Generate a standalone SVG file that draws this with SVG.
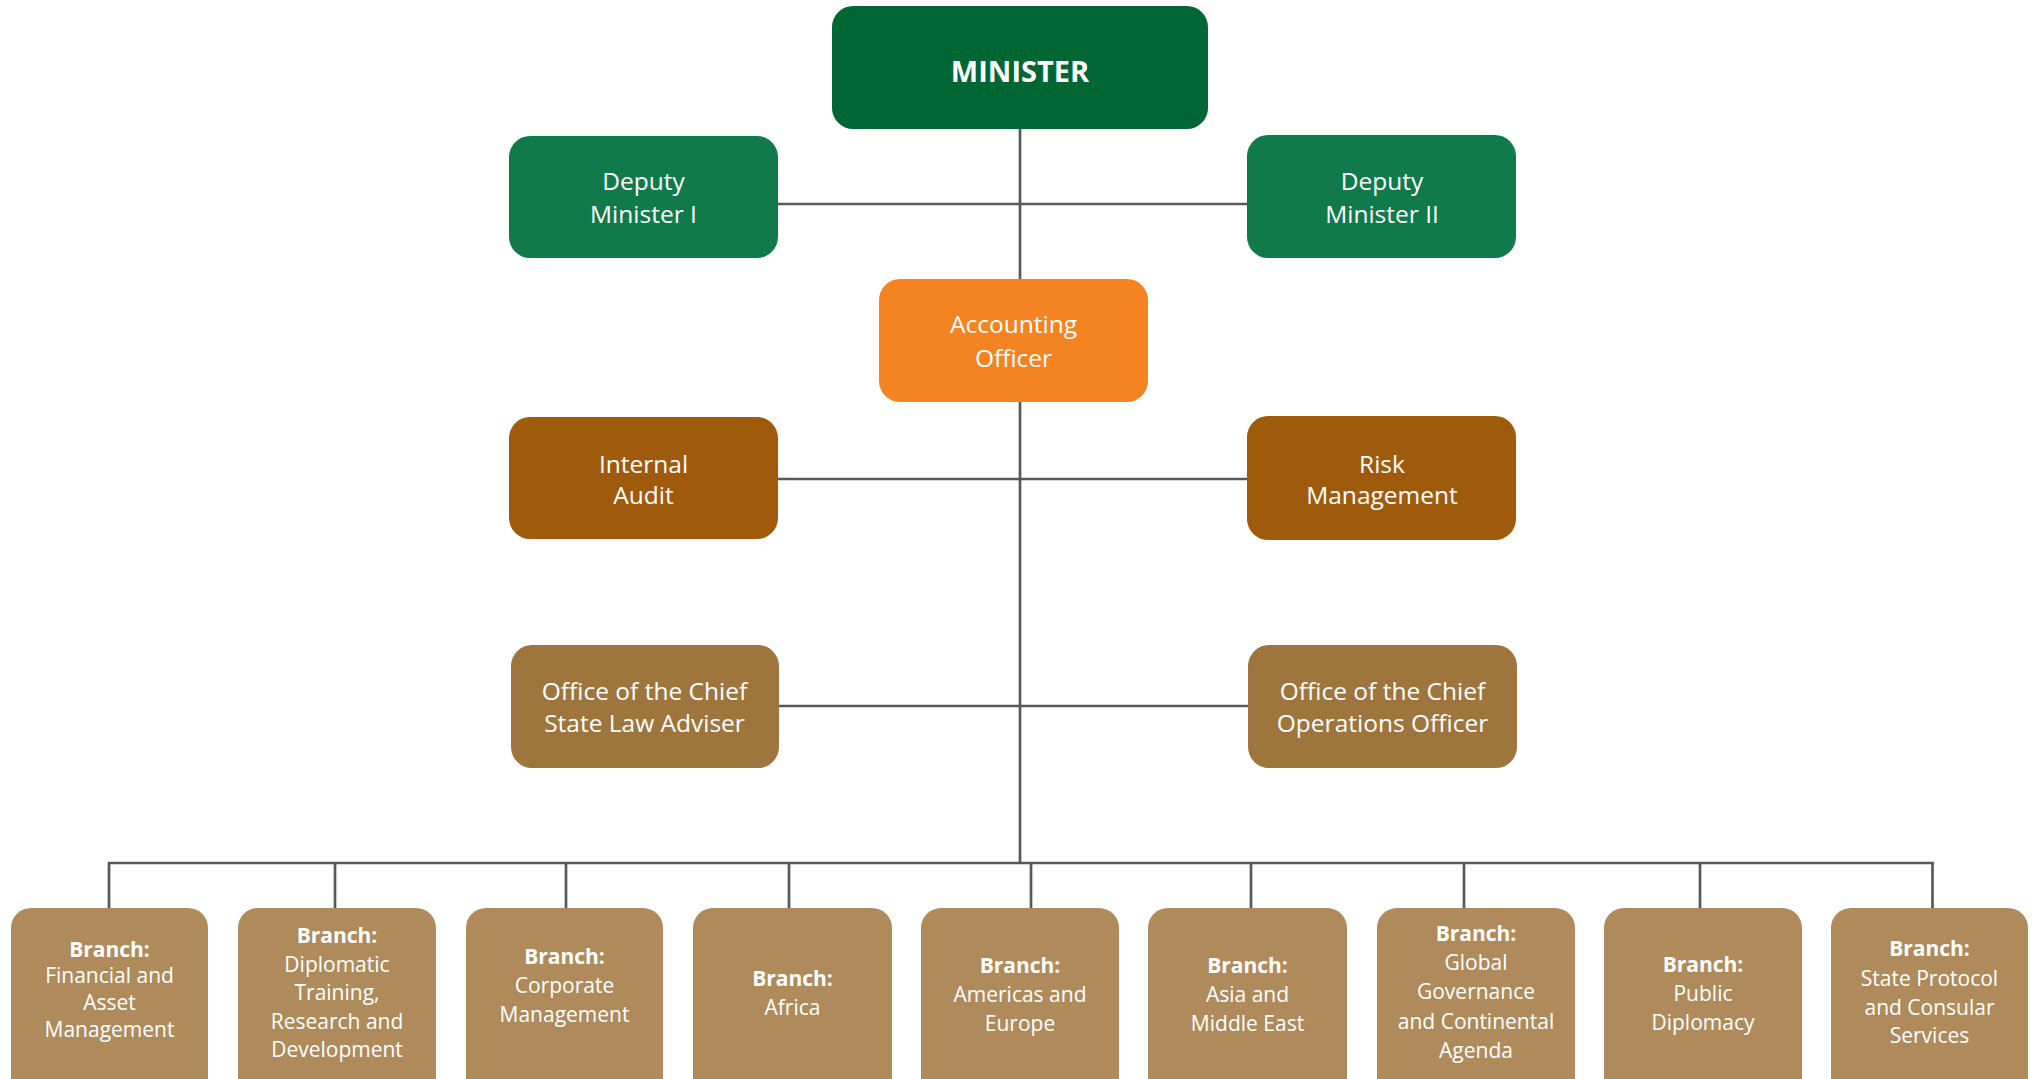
<svg xmlns="http://www.w3.org/2000/svg" width="2037" height="1079" viewBox="0 0 2037 1079">
<style>
text{font-family:"Open Sans","Noto Sans","Liberation Sans",sans-serif;fill:#ffffff;text-anchor:middle}
.t{font-size:24.5px}
.b{font-size:21px}
.bb{font-size:21px;font-weight:bold}
.c line{stroke:#58595b;stroke-width:2.7;fill:none}
</style>
<rect width="2037" height="1079" fill="#ffffff"/>
<g class="c" id="connectors">
<line x1="1020" y1="129" x2="1020" y2="864"/>
<line x1="778" y1="204" x2="1247" y2="204"/>
<line x1="778" y1="479" x2="1247" y2="479"/>
<line x1="779" y1="706" x2="1248" y2="706"/>
<line x1="108" y1="863" x2="1934" y2="863"/>
<line x1="109" y1="862" x2="109" y2="908"/>
<line x1="335" y1="862" x2="335" y2="908"/>
<line x1="566" y1="862" x2="566" y2="908"/>
<line x1="789" y1="862" x2="789" y2="908"/>
<line x1="1031" y1="862" x2="1031" y2="908"/>
<line x1="1251" y1="862" x2="1251" y2="908"/>
<line x1="1464" y1="862" x2="1464" y2="908"/>
<line x1="1700" y1="862" x2="1700" y2="908"/>
<line x1="1932.5" y1="862" x2="1932.5" y2="908"/>
</g>
<g id="minister">
<rect x="832" y="6" width="376" height="123" rx="21" fill="#006633"/>
<text x="1020" y="82" style="font-size:29px;font-weight:bold">MINISTER</text>
</g>
<g id="deputy1">
<rect x="509" y="136" width="269" height="122" rx="21" fill="#117a4a"/>
<text class="t" x="643.5" y="190">Deputy</text>
<text class="t" x="643.5" y="223">Minister I</text>
</g>
<g id="deputy2">
<rect x="1247" y="135" width="269" height="123" rx="21" fill="#117a4a"/>
<text class="t" x="1382" y="190">Deputy</text>
<text class="t" x="1382" y="223">Minister II</text>
</g>
<g id="accounting">
<rect x="879" y="279" width="269" height="123" rx="21" fill="#f48322"/>
<text class="t" x="1013.5" y="333">Accounting</text>
<text class="t" x="1013.5" y="367">Officer</text>
</g>
<g id="audit">
<rect x="509" y="417" width="269" height="122" rx="21" fill="#a05a0c"/>
<text class="t" x="643.5" y="473">Internal</text>
<text class="t" x="643.5" y="504">Audit</text>
</g>
<g id="risk">
<rect x="1247" y="416" width="269" height="124" rx="21" fill="#a05a0c"/>
<text class="t" x="1382" y="473">Risk</text>
<text class="t" x="1382" y="504">Management</text>
</g>
<g id="law">
<rect x="511" y="645" width="268" height="123" rx="21" fill="#9e763d"/>
<text class="t" x="644.5" y="700">Office of the Chief</text>
<text class="t" x="644.5" y="732">State Law Adviser</text>
</g>
<g id="coo">
<rect x="1248" y="645" width="269" height="123" rx="21" fill="#9e763d"/>
<text class="t" x="1382.5" y="700">Office of the Chief</text>
<text class="t" x="1382.5" y="732">Operations Officer</text>
</g>
<g id="b1">
<rect x="11" y="908" width="197" height="200" rx="20" fill="#af8b5c"/>
<text class="bb" x="109.5" y="957">Branch:</text>
<text class="b" x="109.5" y="983">Financial and</text>
<text class="b" x="109.5" y="1010">Asset</text>
<text class="b" x="109.5" y="1037">Management</text>
</g>
<g id="b2">
<rect x="238" y="908" width="198" height="200" rx="20" fill="#af8b5c"/>
<text class="bb" x="337" y="943">Branch:</text>
<text class="b" x="337" y="972">Diplomatic</text>
<text class="b" x="337" y="1000">Training,</text>
<text class="b" x="337" y="1029">Research and</text>
<text class="b" x="337" y="1057">Development</text>
</g>
<g id="b3">
<rect x="466" y="908" width="197" height="200" rx="20" fill="#af8b5c"/>
<text class="bb" x="564.5" y="964">Branch:</text>
<text class="b" x="564.5" y="993">Corporate</text>
<text class="b" x="564.5" y="1022">Management</text>
</g>
<g id="b4">
<rect x="693" y="908" width="199" height="200" rx="20" fill="#af8b5c"/>
<text class="bb" x="792.5" y="986">Branch:</text>
<text class="b" x="792.5" y="1015">Africa</text>
</g>
<g id="b5">
<rect x="921" y="908" width="198" height="200" rx="20" fill="#af8b5c"/>
<text class="bb" x="1020" y="973">Branch:</text>
<text class="b" x="1020" y="1002">Americas and</text>
<text class="b" x="1020" y="1031">Europe</text>
</g>
<g id="b6">
<rect x="1148" y="908" width="199" height="200" rx="20" fill="#af8b5c"/>
<text class="bb" x="1247.5" y="973">Branch:</text>
<text class="b" x="1247.5" y="1002">Asia and</text>
<text class="b" x="1247.5" y="1031">Middle East</text>
</g>
<g id="b7">
<rect x="1377" y="908" width="198" height="200" rx="20" fill="#af8b5c"/>
<text class="bb" x="1476" y="941">Branch:</text>
<text class="b" x="1476" y="970">Global</text>
<text class="b" x="1476" y="999">Governance</text>
<text class="b" x="1476" y="1029">and Continental</text>
<text class="b" x="1476" y="1058">Agenda</text>
</g>
<g id="b8">
<rect x="1604" y="908" width="198" height="200" rx="20" fill="#af8b5c"/>
<text class="bb" x="1703" y="972">Branch:</text>
<text class="b" x="1703" y="1001">Public</text>
<text class="b" x="1703" y="1030">Diplomacy</text>
</g>
<g id="b9">
<rect x="1831" y="908" width="197" height="200" rx="20" fill="#af8b5c"/>
<text class="bb" x="1929.5" y="956">Branch:</text>
<text class="b" x="1929.5" y="986">State Protocol</text>
<text class="b" x="1929.5" y="1015">and Consular</text>
<text class="b" x="1929.5" y="1043">Services</text>
</g>
</svg>
